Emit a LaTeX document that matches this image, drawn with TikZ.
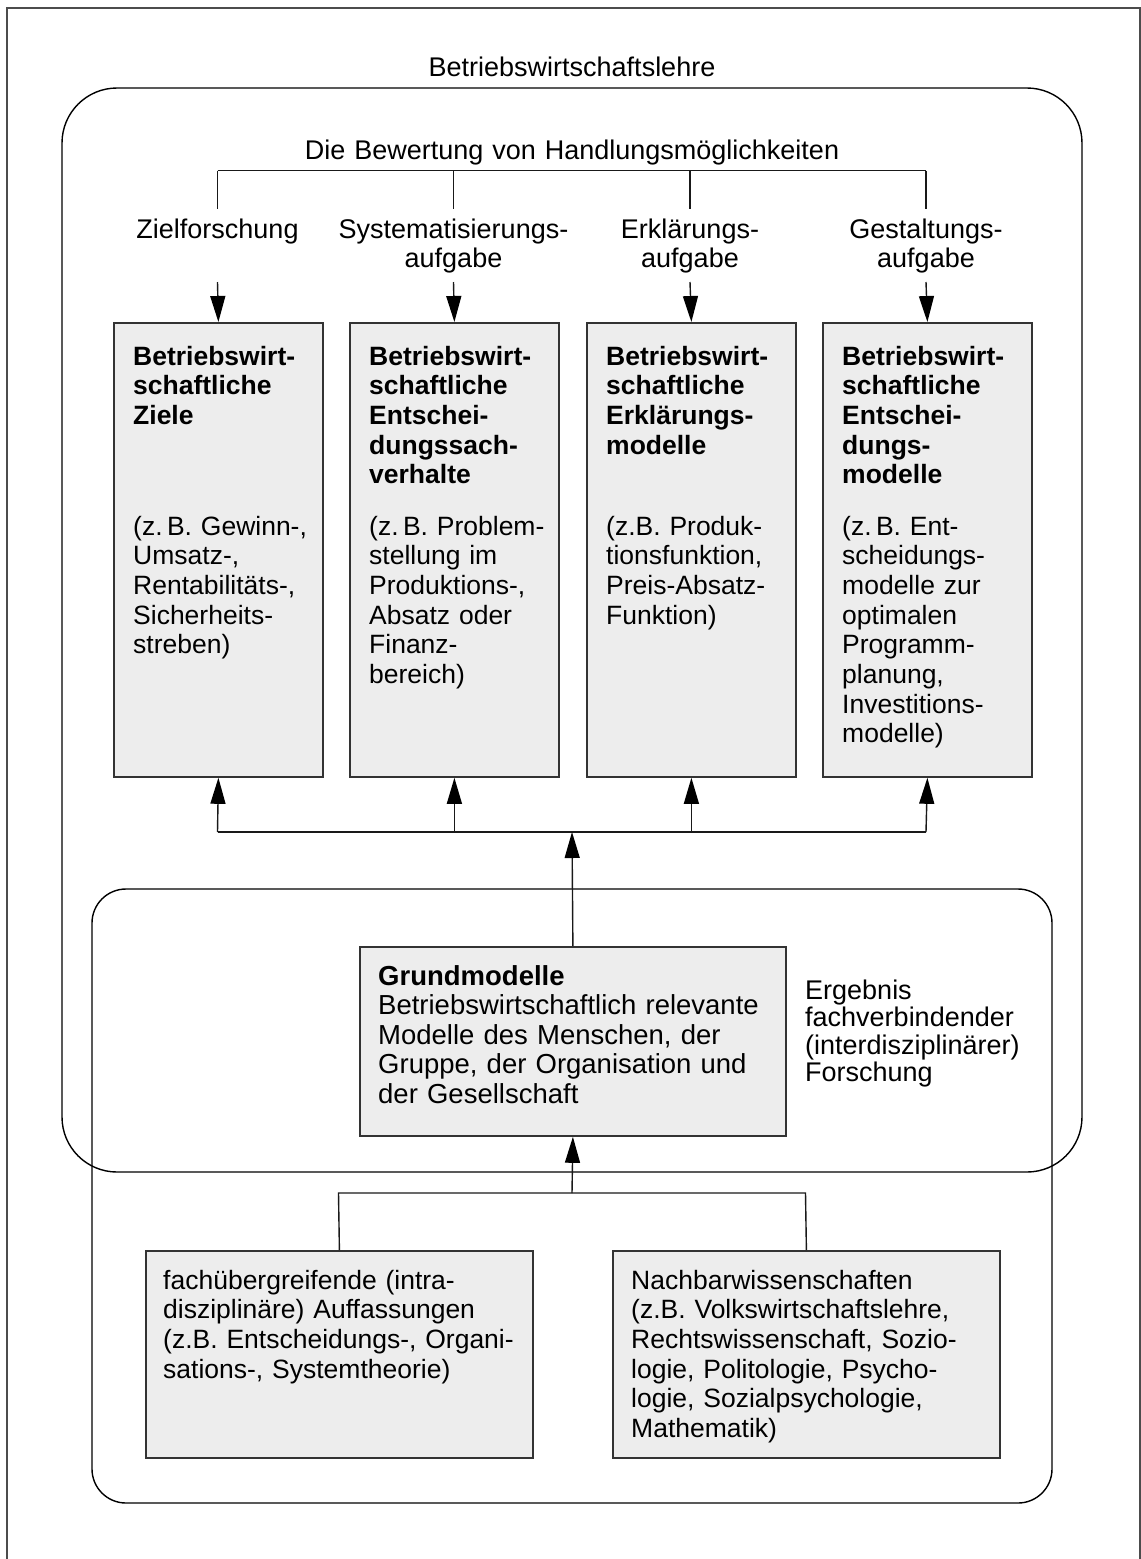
\documentclass[tikz,border=0pt]{standalone}
\usepackage{fontspec}
\setmainfont{Liberation Sans}
\usetikzlibrary{arrows.meta}

\begin{document}
\begin{tikzpicture}[x=1pt,y=-1pt,
  frame/.style={draw=black!70, line width=1.6pt},
  zone/.style={draw=black, line width=1.4pt},
  card/.style={draw=black!80, fill=black!7, line width=1.8pt, inner sep=0pt, anchor=north west},
  link/.style={draw=black!90, line width=1.4pt},
  arr/.style={link, -{Triangle[length=26pt,width=15pt,color=black]}},
  lbl/.style={inner sep=0pt, anchor=base, align=center, text width=300pt,
              font=\fontsize{27}{29.5}\selectfont},
  head/.style={inner sep=0pt, anchor=base west, align=left, text width=300pt,
               font=\bfseries\fontsize{26.5}{29.7}\selectfont},
  txt/.style={inner sep=0pt, anchor=base west, align=left, text width=400pt,
              font=\fontsize{26.5}{29.7}\selectfont},
]
\useasboundingbox (0,0) rectangle (1141,1559);

% page frame, open at the bottom
\draw[frame] (7,1575) -- (7,8) -- (1140,8) -- (1140,1575);

% outer and inner zones
\draw[zone, rounded corners=55pt] (62,88) rectangle (1082,1172);
\draw[zone, rounded corners=34pt] (92,889) rectangle (1052,1503);

% headings
\node[lbl] (bwl) at (572,76.5) {Betriebswirtschaftslehre};
\node[lbl, text width=600pt] (bew) at (572,159) {Die Bewertung von Handlungsmöglichkeiten};

% four task boxes
\node[card, minimum width=209pt, minimum height=454pt] (z1) at (113,322) {};
\node[card, minimum width=209pt, minimum height=454pt] (z2) at (349,322) {};
\node[card, minimum width=209pt, minimum height=454pt] (z3) at (586,322) {};
\node[card, minimum width=209pt, minimum height=454pt] (z4) at (822,322) {};

% task labels
\node[lbl] (l1) at (217.5,238) {Zielforschung};
\node[lbl] (l2) at (453.5,238) {Systematisierungs-\\aufgabe};
\node[lbl] (l3) at (690,238) {Erklärungs-\\aufgabe};
\node[lbl] (l4) at (926,238) {Gestaltungs-\\aufgabe};

% bracket under the evaluation heading
\coordinate (b1) at (217.5,170.7);
\coordinate (b2) at (453.5,170.7);
\coordinate (b3) at (690,170.7);
\coordinate (b4) at (926,170.7);
\coordinate (e1) at (217.5,209);
\coordinate (e2) at (453.5,209);
\coordinate (e3) at (690,209);
\coordinate (e4) at (926,209);
\draw[link] (b1) -- (b4);
\draw[link] (b1) -- (e1);
\draw[link] (b2) -- (e2);
\draw[link] (b3) -- (e3);
\draw[link] (b4) -- (e4);

% arrows from labels into boxes
\coordinate (a1) at (217.5,282);
\coordinate (a2) at (453.5,282);
\coordinate (a3) at (690,282);
\coordinate (a4) at (926,282);
\draw[arr] (a1) -- (z1.north);
\draw[arr] (a2) -- (z2.north);
\draw[arr] (a3) -- (z3.north);
\draw[arr] (a4) -- (z4.north);

% box contents
\node[head] (h1) at (133,365) {Betriebswirt-\\schaftliche\\Ziele};
\node[head] (h2) at (369,365) {Betriebswirt-\\schaftliche\\Entschei-\\dungssach-\\verhalte};
\node[head] (h3) at (606,365) {Betriebswirt-\\schaftliche\\Erklärungs-\\modelle};
\node[head] (h4) at (842,365) {Betriebswirt-\\schaftliche\\Entschei-\\dungs-\\modelle};

\node[txt] (d1) at (133,535) {(z.\,B. Gewinn-,\\Umsatz-,\\Rentabilitäts-,\\Sicherheits-\\streben)};
\node[txt] (d2) at (369,535) {(z.\,B. Problem-\\stellung im\\Produktions-,\\Absatz oder\\Finanz-\\bereich)};
\node[txt] (d3) at (606,535) {(z.B. Produk-\\tionsfunktion,\\Preis-Absatz-\\Funktion)};
\node[txt] (d4) at (842,535) {(z.\,B. Ent-\\scheidungs-\\modelle zur\\optimalen\\Programm-\\planung,\\Investitions-\\modelle)};

% basic models
\node[card, minimum width=426pt, minimum height=189pt] (gm) at (359,946) {};
\node[txt, font=\fontsize{27.5}{29.6}\selectfont] (gmt) at (378,985)
  {\textbf{Grundmodelle}\\Betriebswirtschaftlich relevante\\Modelle des Menschen, der\\Gruppe, der Organisation und\\der Gesellschaft};
\node[txt, font=\fontsize{27}{27.6}\selectfont] (erg) at (805,999)
  {Ergebnis\\fachverbindender\\(interdisziplinärer)\\Forschung};

% distribution bar to the four boxes
\coordinate (k1) at (217.5,832);
\coordinate (k4) at (926,832);
\coordinate (kc) at (572,832);
\draw[link] (k1) -- (k4);
\draw[arr] (k1) -- (z1.south);
\draw[arr] (z2.south |- k1) -- (z2.south);
\draw[arr] (z3.south |- k1) -- (z3.south);
\draw[arr] (k4) -- (z4.south);
\draw[arr] (gm.north) -- (kc);

% sources
\node[card, minimum width=387pt, minimum height=207pt] (s1) at (145,1250) {};
\node[card, minimum width=387pt, minimum height=207pt] (s2) at (612,1250) {};
\node[txt] (s1t) at (163,1289)
  {fachübergreifende (intra-\\disziplinäre) Auffassungen\\(z.B. Entscheidungs-, Organi-\\sations-, Systemtheorie)};
\node[txt] (s2t) at (631,1289)
  {Nachbarwissenschaften\\(z.B. Volkswirtschaftslehre,\\Rechtswissenschaft, Sozio-\\logie, Politologie, Psycho-\\logie, Sozialpsychologie,\\Mathematik)};

\coordinate (m1) at (338.5,1193);
\coordinate (m2) at (805.5,1193);
\coordinate (mc) at (572,1193);
\draw[link] (s1.north) -- (m1) -- (m2) -- (s2.north);
\draw[arr] (mc) -- (gm.south);
\end{tikzpicture}
\end{document}
